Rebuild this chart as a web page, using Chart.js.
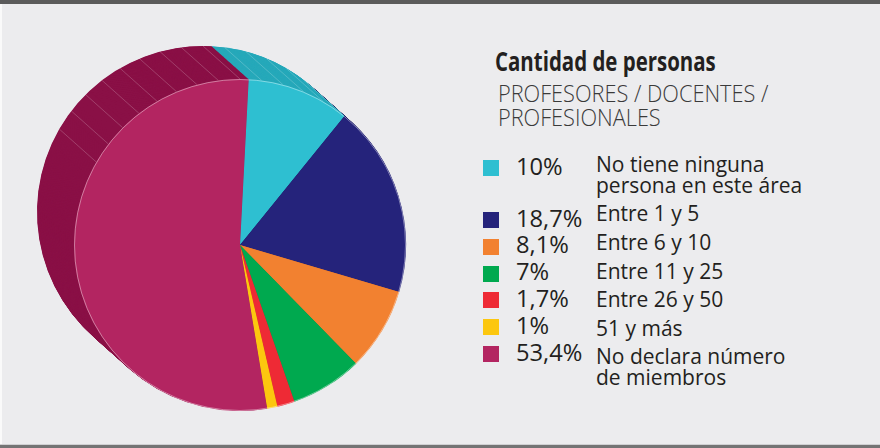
<!DOCTYPE html>
<html><head><meta charset="utf-8">
<script src="https://cdn.jsdelivr.net/npm/chart.js@4/dist/chart.umd.min.js"></script>
<style>
html,body{margin:0;padding:0;}
body{width:880px;height:448px;background:#ECECEE;position:relative;overflow:hidden;font-family:"Open Sans","Noto Sans",sans-serif;color:#231F20;}
#topline{position:absolute;left:0;top:0;width:880px;height:4px;background:#5b5b5b;}
#leftline{position:absolute;left:0;top:4px;width:2px;height:440px;background:#fafafa;}
#botline{position:absolute;left:0;top:445px;width:880px;height:3px;background:#747474;}
#botline2{position:absolute;left:0;top:444px;width:880px;height:1px;background:#d0d0d2;}
#chartbox{position:absolute;left:0;top:0;width:460px;height:448px;}
.t{position:absolute;white-space:nowrap;line-height:1;transform-origin:0 0;}
#title{font-weight:700;font-size:26px;color:#231F20;}
.sub{font-weight:300;font-size:24px;color:#3a3a3a;}
.pct{font-size:23px;}
.lbl{font-size:21px;}
.sq{position:absolute;width:16px;height:16px;}
</style></head>
<body>
<div id="topline"></div><div id="leftline"></div><div id="botline2"></div><div id="botline"></div>
<div id="chartbox"><canvas id="c"></canvas></div>
<div id="legend"></div>
<script>
// ---- data ----
const title = "Cantidad de personas";
const subtitle = ["PROFESORES / DOCENTES /", "PROFESIONALES"];
const categories = [
  ["No tiene ninguna", "persona en este área"],
  ["Entre 1 y 5"],
  ["Entre 6 y 10"],
  ["Entre 11 y 25"],
  ["Entre 26 y 50"],
  ["51 y más"],
  ["No declara número", "de miembros"]
];
const values = [10, 18.7, 8.1, 7, 1.7, 1, 53.4];
const pctLabels = values.map(v => String(v).replace('.', ',') + '%');

// ---- styles ----
const colors = ["#2EBFD1", "#25237B", "#F28130", "#00A94F", "#EE2A35", "#FCC70F", "#B32561"];
const sideColors = ["#27A9BA", "#1B1A5E", "#C96A25", "#008A40", "#C2202A", "#D6A80C", "#8A1046"];
const DX = -37, DY = -33;

const side3d = {
  id: 'side3d',
  beforeDatasetsDraw(chart) {
    const ctx = chart.ctx;
    const arcs = chart.getDatasetMeta(0).data;
    const N = 90;
    for (let s = N; s >= 1; s--) {
      const t = s / N;
      ctx.save();
      ctx.translate(DX * t, DY * t);
      arcs.forEach((a, i) => {
        const p = a.getProps(['x', 'y', 'startAngle', 'endAngle', 'outerRadius'], true);
        ctx.beginPath();
        ctx.moveTo(p.x, p.y);
        ctx.arc(p.x, p.y, p.outerRadius, p.startAngle, p.endAngle);
        ctx.closePath();
        ctx.fillStyle = sideColors[i];
        ctx.fill();
      });
      ctx.restore();
    }
    // facet lines on the side wall
    const a0 = arcs[0].getProps(['x', 'y', 'outerRadius'], true);
    ctx.save();
    ctx.strokeStyle = 'rgba(255,255,255,0.25)';
    ctx.lineWidth = 0.8;
    for (let d = 300; d <= 397.5; d += 7.5) {
      const th = (d - 90) * Math.PI / 180;
      const fx = a0.x + a0.outerRadius * Math.cos(th), fy = a0.y + a0.outerRadius * Math.sin(th);
      ctx.beginPath();
      ctx.moveTo(fx + DX, fy + DY);
      ctx.lineTo(fx, fy);
      ctx.stroke();
    }
    ctx.restore();
  },
  afterDatasetsDraw(chart) {
    const ctx = chart.ctx;
    const a0 = chart.getDatasetMeta(0).data[0].getProps(['x', 'y', 'outerRadius'], true);
    ctx.save();
    ctx.strokeStyle = 'rgba(255,255,255,0.4)';
    ctx.lineWidth = 1;
    ctx.beginPath();
    ctx.arc(a0.x, a0.y, a0.outerRadius - 0.5, 0, Math.PI * 2);
    ctx.stroke();
    ctx.restore();
  }
};

new Chart(document.getElementById('c'), {
  type: 'pie',
  data: {
    labels: categories.map(c => c.join(' ')),
    datasets: [{ data: values, backgroundColor: colors, borderWidth: 0 }]
  },
  options: {
    responsive: true,
    maintainAspectRatio: false,
    animation: false,
    rotation: 3,
    layout: { padding: { left: 74, top: 79, right: 54, bottom: 37 } },
    plugins: { legend: { display: false }, tooltip: { enabled: false } }
  },
  plugins: [side3d]
});

// ---- legend (HTML text) ----
const leg = document.getElementById('legend');
function addText(cls, txt, x, baseline, size, sx) {
  const d = document.createElement('div');
  d.className = 't ' + cls;
  d.textContent = txt;
  d.style.left = x + 'px';
  d.style.top = (baseline - 0.888 * size) + 'px';
  if (sx) d.style.transform = 'scaleX(' + sx + ')';
  leg.appendChild(d);
  return d;
}
const tt = addText('', title, 495, 71, 26, 0.786); tt.id = 'title';
addText('sub', subtitle[0], 498, 102, 24, 0.905);
addText('sub', subtitle[1], 498, 126, 24, 0.905);

let py = 175, ly = 173;
categories.forEach((lines, i) => {
  const sq = document.createElement('div');
  sq.className = 'sq';
  sq.style.background = colors[i];
  sq.style.left = '483px';
  sq.style.top = (py - 15) + 'px';
  leg.appendChild(sq);
  addText('pct', pctLabels[i], 516, py, 23, 1.03);
  lines.forEach((ln, k) => addText('lbl', ln, 596, ly + k * 20.5, 21));
  py += 26.8 + (lines.length - 1) * 25.2;
  ly += 28.6 + (lines.length - 1) * 20.5;
});
</script>
</body></html>
